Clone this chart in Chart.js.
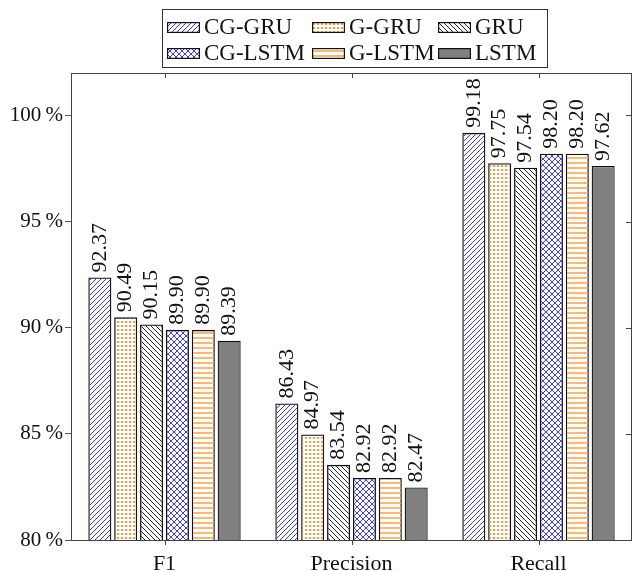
<!DOCTYPE html>
<html>
<head>
<meta charset="utf-8">
<script src="https://cdn.jsdelivr.net/npm/chart.js@4"></script>
<style>
  body { margin: 0; background: #fff; }
  #wrap { position: relative; width: 634px; height: 571px; }
  #legend {
    position: absolute; left: 162px; top: 9px; width: 384px; height: 57px;
    border: 1px solid #333; box-sizing: content-box;
    font-family: 'Liberation Serif', serif; font-size: 23px; color: #111;
  }
  .item { position: absolute; height: 26px; line-height: 26px; white-space: nowrap; }
  .item canvas { position: absolute; left: 0; top: 8px; }
  .item span { position: absolute; left: 37px; top: 0; }
</style>
</head>
<body>
<div id="wrap">
  <canvas id="chart" width="634" height="571"></canvas>
  <div id="legend"></div>
</div>
<script>
// metrics and model scores (in %)
const categories = ['F1', 'Precision', 'Recall'];
const models = ['CG-GRU', 'G-GRU', 'GRU', 'CG-LSTM', 'G-LSTM', 'LSTM'];
const cgGru = [92.37, 86.43, 99.18];
const gGru = [90.49, 84.97, 97.75];
const gru = [90.15, 83.54, 97.54];
const cgLstm = [89.90, 82.92, 98.20];
const gLstm = [89.90, 82.92, 98.20];
const lstm = [89.39, 82.47, 97.62];
const yTicks = [80, 85, 90, 95, 100];

const BLUE = '#3a3aff';
const ORANGE = '#ff9a3a';
const LIGHT_ORANGE = '#ffb870';

function makePattern(kind) {
  const c = document.createElement('canvas');
  const g = c.getContext('2d');
  if (kind === 'ne') {
    c.width = c.height = 5;
    g.strokeStyle = BLUE; g.lineWidth = 1;
    g.beginPath();
    g.moveTo(-1, 6); g.lineTo(6, -1);
    g.moveTo(-1, 1); g.lineTo(1, -1);
    g.moveTo(4, 6); g.lineTo(6, 4);
    g.stroke();
  } else if (kind === 'nw') {
    c.width = c.height = 5;
    g.strokeStyle = '#222'; g.lineWidth = 1;
    g.beginPath();
    g.moveTo(-1, -1); g.lineTo(6, 6);
    g.moveTo(4, -1); g.lineTo(6, 1);
    g.moveTo(-1, 4); g.lineTo(1, 6);
    g.stroke();
  } else if (kind === 'dots') {
    c.width = c.height = 4;
    g.fillStyle = ORANGE;
    g.fillRect(1, 1, 2, 2);
  } else if (kind === 'cross') {
    c.width = c.height = 6;
    g.strokeStyle = BLUE; g.lineWidth = 1;
    g.beginPath();
    g.moveTo(-1, -1); g.lineTo(7, 7);
    g.moveTo(-1, 7); g.lineTo(7, -1);
    g.stroke();
  } else if (kind === 'hlines') {
    c.width = 4; c.height = 5;
    g.fillStyle = LIGHT_ORANGE;
    g.fillRect(0, 2, 4, 2);
  }
  return g.createPattern(c, 'repeat');
}

const ctxMain = document.getElementById('chart').getContext('2d');
const fills = [makePattern('ne'), makePattern('dots'), makePattern('nw'),
               makePattern('cross'), makePattern('hlines'), '#808080'];
const series = [cgGru, gGru, gru, cgLstm, gLstm, lstm];

// frame + extra tick marks like pgfplots
const framePlugin = {
  id: 'frame',
  afterDraw(chart) {
    const { ctx, chartArea: a, scales } = chart;
    ctx.save();
    ctx.strokeStyle = '#444';
    ctx.lineWidth = 1;
    ctx.strokeRect(a.left + 0.5, a.top + 0.5, a.right - a.left - 1, a.bottom - a.top);
    ctx.beginPath();
    yTicks.forEach(v => {
      const y = Math.round(scales.y.getPixelForValue(v)) + 0.5;
      ctx.moveTo(a.right - 6, y); ctx.lineTo(a.right, y);
    });
    categories.forEach((c, i) => {
      const x = Math.round(scales.x.getPixelForValue(i)) + 0.5;
      ctx.moveTo(x, a.bottom); ctx.lineTo(x, a.bottom + 5);
      ctx.moveTo(x, a.top); ctx.lineTo(x, a.top + 5);
    });
    ctx.stroke();
    ctx.restore();
  }
};

// rotated value labels above bars
const valuePlugin = {
  id: 'values',
  afterDatasetsDraw(chart) {
    const { ctx } = chart;
    ctx.save();
    ctx.font = '22px "Liberation Serif", serif';
    ctx.fillStyle = '#111';
    ctx.textAlign = 'left';
    ctx.textBaseline = 'middle';
    chart.data.datasets.forEach((ds, di) => {
      chart.getDatasetMeta(di).data.forEach((bar, i) => {
        ctx.save();
        ctx.translate(bar.x, bar.y - 5);
        ctx.rotate(-Math.PI / 2);
        ctx.fillText(ds.data[i].toFixed(2), 0, 0);
        ctx.restore();
      });
    });
    ctx.restore();
  }
};

new Chart(ctxMain, {
  type: 'bar',
  data: {
    labels: categories,
    datasets: models.map((m, i) => ({
      label: m,
      data: series[i],
      backgroundColor: fills[i],
      borderColor: '#111',
      borderWidth: 1.3,
      barPercentage: 0.89,
      categoryPercentage: 0.83
    }))
  },
  options: {
    responsive: false,
    animation: false,
    layout: { padding: { top: 73, right: 2, left: 0, bottom: 0 } },
    plugins: { legend: { display: false }, tooltip: { enabled: false } },
    scales: {
      x: {
        grid: { display: false },
        border: { display: false },
        ticks: { color: '#111', font: { family: 'Liberation Serif', size: 22 }, padding: 3 },
        afterFit(s) { s.height = 31; }
      },
      y: {
        min: 80,
        max: 102,
        afterBuildTicks(s) { s.ticks = yTicks.map(v => ({ value: v })); },
        grid: { drawOnChartArea: false, tickLength: 6, color: '#555' },
        border: { display: false },
        ticks: {
          color: '#111',
          font: { family: 'Liberation Serif', size: 21 },
          padding: 2,
          callback: v => v + '\u2009%'
        },
        afterFit(s) { s.width = 71; }
      }
    }
  },
  plugins: [framePlugin, valuePlugin]
});

// legend as html, swatches use the same fills
const legend = document.getElementById('legend');
const pos = [[4, 4], [149, 4], [275, 4], [4, 30], [149, 30], [275, 30]];
models.forEach((m, i) => {
  const d = document.createElement('div');
  d.className = 'item';
  d.style.left = pos[i][0] + 'px';
  d.style.top = pos[i][1] + 'px';
  const sw = document.createElement('canvas');
  sw.width = 33; sw.height = 11;
  const g = sw.getContext('2d');
  g.fillStyle = '#fff'; g.fillRect(0, 0, 33, 11);
  g.fillStyle = fills[i]; g.fillRect(0, 0, 33, 11);
  g.strokeStyle = '#111'; g.lineWidth = 1.2; g.strokeRect(0.6, 0.6, 31.8, 9.8);
  const t = document.createElement('span');
  t.textContent = m;
  d.appendChild(sw); d.appendChild(t);
  legend.appendChild(d);
});
</script>
</body>
</html>
